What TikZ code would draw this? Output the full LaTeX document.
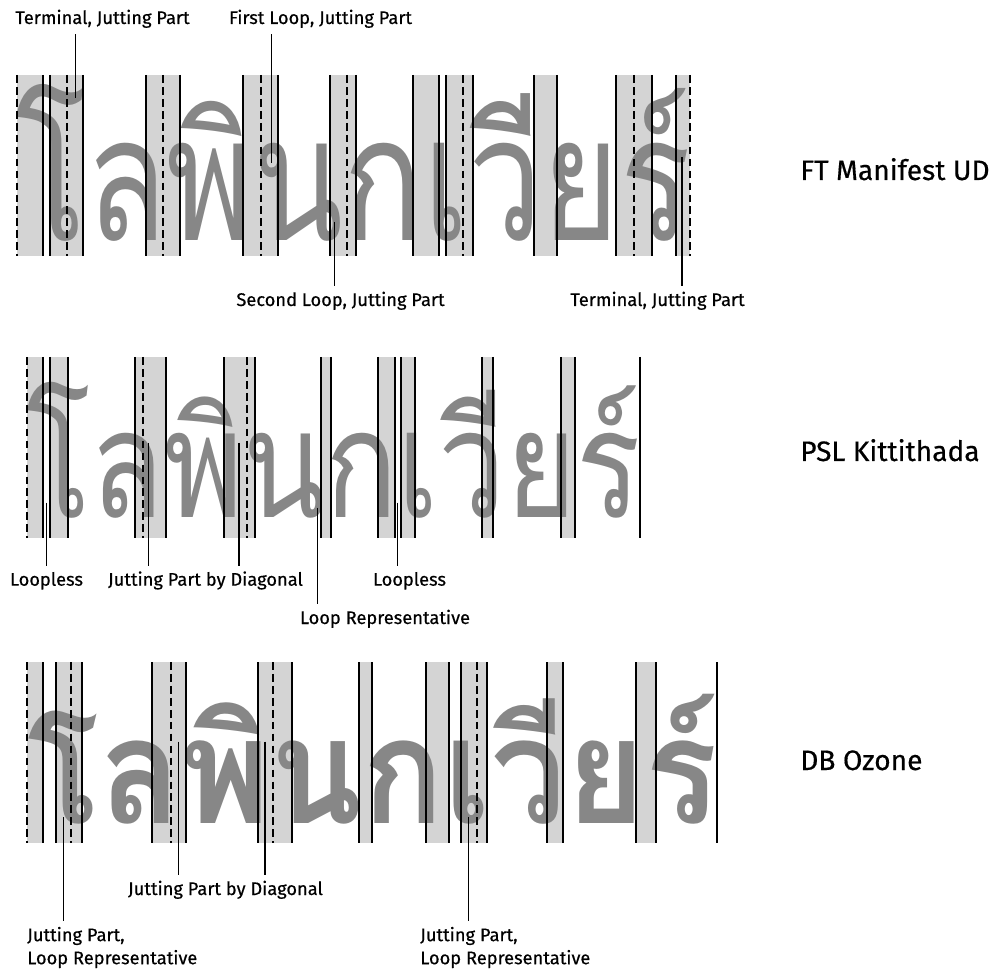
\documentclass[tikz,border=0pt]{standalone}
\usepackage{graphicx}
\usepackage{fontspec}
\setmainfont{Fira Sans}
\newfontfamily\labelfont{Fira Sans}[FakeBold=0.45]
\newfontfamily\thaifont[Script=Thai]{Loma}
\usepackage{tikz}
\usetikzlibrary{calc}
\definecolor{bandgray}{HTML}{D4D4D4}
\definecolor{glyphgray}{HTML}{878787}

\begin{document}
\begin{tikzpicture}[x=0.025cm, y=-0.025cm,
  band/.style={fill=bandgray, draw=none},
  stemline/.style={line width=1.1pt},
  midline/.style={line width=1.1pt, dash pattern=on 5.5pt off 3pt},
  pointer/.style={line width=1pt},
  note/.style={font=\labelfont\fontsize{13}{16.4}\selectfont, inner sep=4pt, anchor=base},
  fontname/.style={font=\labelfont\fontsize{20}{24}\selectfont, inner sep=0pt, anchor=base west},
  glyphs/.style={text=glyphgray, inner sep=0pt, anchor=south west}]
  \useasboundingbox (0,0) rectangle (1000,970);

  % FT Manifest UD
  \foreach \a/\b in {17/43, 50/83, 146/180, 243/278, 330/356, 413/439, 446/473, 534/557, 616/652, 676/690}
    \fill[band] (\a,75) rectangle (\b,256);
  \node[glyphs] (ftword) at (15,242) {\resizebox*{16.875cm}{3.925cm}{\thaifont โลพินกเวียร์}};
  \foreach \x in {43, 50, 83, 146, 180, 243, 278, 330, 356, 413, 439, 446, 473, 534, 557, 616, 652, 676}
    \draw[stemline] (\x,75) -- (\x,256);
  \foreach \x in {17, 67, 163, 261, 347, 463, 634, 690}
    \draw[midline] (\x,75) -- (\x,256);
  \node[fontname] (ftname) at (800,180) {FT Manifest UD};

  \node[note] (ftterm) at (102.5,24) {Terminal, Jutting Part};
  \node[note] (ftfirst) at (320.5,24) {First Loop, Jutting Part};
  \node[note] (ftsecond) at (340.5,306) {Second Loop, Jutting Part};
  \node[note] (ftend) at (657.5,306) {Terminal, Jutting Part};
  \coordinate (ftp1) at (75.7,98);
  \coordinate (ftp2) at (271.7,163);
  \coordinate (ftp3) at (334.3,222);
  \coordinate (ftp4) at (682,157);
  \draw[pointer] (ftp1) -- (ftp1 |- ftterm.south);
  \draw[pointer] (ftp2) -- (ftp2 |- ftfirst.south);
  \draw[pointer] (ftp3) -- (ftp3 |- ftsecond.north);
  \draw[pointer] (ftp4) -- (ftp4 |- ftend.north);

  % PSL Kittithada
  \foreach \a/\b in {27/43, 50/68, 135/166, 224/255, 321/331, 378/395, 401/415, 482/493, 561/575}
    \fill[band] (\a,357) rectangle (\b,538);
  \node[glyphs] (pslword) at (26,519) {\resizebox*{15.35cm}{3.4cm}{\thaifont โลพินกเวียร์}};
  \foreach \x in {43, 50, 68, 135, 166, 224, 255, 321, 331, 378, 395, 401, 415, 482, 493, 561, 575, 640}
    \draw[stemline] (\x,357) -- (\x,538);
  \foreach \x in {27, 143, 247}
    \draw[midline] (\x,357) -- (\x,538);
  \node[fontname] (pslname) at (800,461) {PSL Kittithada};

  \node[note] (pslloop1) at (46.5,585.7) {Loopless};
  \node[note] (psldiag) at (205.5,585.7) {Jutting Part by Diagonal};
  \node[note] (pslrep) at (385,624) {Loop Representative};
  \node[note] (pslloop2) at (409.5,585.7) {Loopless};
  \coordinate (pslp1) at (46.7,502.7);
  \coordinate (pslp2) at (148.3,443);
  \coordinate (pslp3) at (239,443);
  \coordinate (pslp4) at (317.3,508);
  \coordinate (pslp5) at (397.7,502.7);
  \draw[pointer] (pslp1) -- (pslp1 |- pslloop1.north);
  \draw[pointer] (pslp2) -- (pslp2 |- psldiag.north);
  \draw[pointer] (pslp3) -- (pslp3 |- psldiag.north);
  \draw[pointer] (pslp4) -- (pslp4 |- pslrep.north);
  \draw[pointer] (pslp5) -- (pslp5 |- pslloop2.north);

  % DB Ozone
  \foreach \a/\b in {27/43, 56/82, 152/186, 258/292, 359/372, 426/449, 461/487, 547/563, 636/656}
    \fill[band] (\a,662) rectangle (\b,843);
  \node[glyphs] (dbword) at (27,825) {\resizebox*{17.25cm}{3.25cm}{\thaifont\bfseries โลพินกเวียร์}};
  \foreach \x in {43, 56, 82, 152, 186, 258, 292, 359, 372, 426, 449, 461, 487, 547, 563, 636, 656, 717}
    \draw[stemline] (\x,662) -- (\x,843);
  \foreach \x in {27, 71, 171, 273, 477}
    \draw[midline] (\x,662) -- (\x,843);
  \node[fontname] (dbname) at (800,770) {DB Ozone};

  \node[note] (dbdiag) at (225.5,895) {Jutting Part by Diagonal};
  \node[note, anchor=north west, align=left] (dbrep1) at (21.4,921) {Jutting Part,\\Loop Representative};
  \node[note, anchor=north west, align=left] (dbrep2) at (414.4,921) {Jutting Part,\\Loop Representative};
  \coordinate (dbp1) at (63.3,817);
  \coordinate (dbp2) at (178.3,741.7);
  \coordinate (dbp3) at (265,741.7);
  \coordinate (dbp4) at (468.3,817);
  \draw[pointer] (dbp1) -- (dbp1 |- dbrep1.north);
  \draw[pointer] (dbp2) -- (dbp2 |- dbdiag.north);
  \draw[pointer] (dbp3) -- (dbp3 |- dbdiag.north);
  \draw[pointer] (dbp4) -- (dbp4 |- dbrep2.north);
\end{tikzpicture}
\end{document}
